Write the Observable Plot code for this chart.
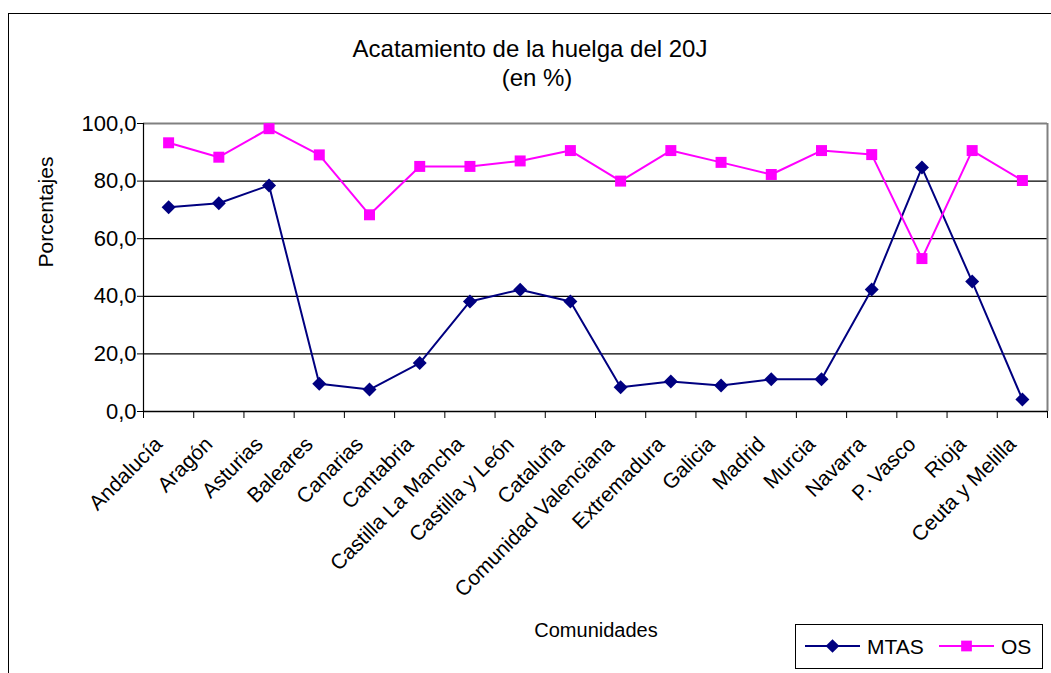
<!DOCTYPE html>
<html>
<head>
<meta charset="utf-8">
<script src="https://cdn.jsdelivr.net/npm/d3@7"></script>
<script src="https://cdn.jsdelivr.net/npm/@observablehq/plot@0.6"></script>
<style>
  html, body { margin: 0; padding: 0; background: #fff; overflow: hidden; }
  #wrap { position: relative; width: 1051px; height: 673px; overflow: hidden; font-family: "Liberation Sans", Arial, sans-serif; color: #000; }
  #frame { position: absolute; left: 8px; top: 13px; width: 1200px; height: 800px; border-left: 1px solid #000; border-top: 1px solid #000; }
  .t { position: absolute; white-space: nowrap; text-align: center; line-height: 24px; }
  #chart { position: absolute; left: 0; top: 0; }
  #legend { position: absolute; left: 795px; top: 624px; }
</style>
</head>
<body>
<div id="wrap">
  <div id="frame"></div>
  <div id="chart"></div>
  <div class="t" style="left:280px;width:500px;top:37px;font-size:24px;">Acatamiento de la huelga del 20J</div>
  <div class="t" style="left:437px;width:200px;top:66px;font-size:24px;">(en %)</div>
  <div class="t" style="left:496px;width:200px;top:618px;font-size:20px;">Comunidades</div>
  <div id="legend"></div>
</div>
<script>
const categories = ["Andalucía","Aragón","Asturias","Baleares","Canarias","Cantabria","Castilla La Mancha","Castilla y León","Cataluña","Comunidad Valenciana","Extremadura","Galicia","Madrid","Murcia","Navarra","P. Vasco","Rioja","Ceuta y Melilla"];
const mtas = [70.9,72.3,78.5,9.6,7.6,16.8,38.2,42.3,38.2,8.4,10.4,9.0,11.2,11.2,42.4,84.7,45.1,4.2];
const os = [93.3,88.3,98.2,89.1,68.3,85.1,85.1,87.0,90.6,80.0,90.6,86.5,82.3,90.6,89.2,53.1,90.6,80.2];
const yTicks = [0,20,40,60,80,100];
const seriesNames = ["MTAS","OS"];
const seriesColors = ["#000080","#FF00FF"];

const mtasRows = categories.map((c, i) => ({cat: c, i: i + 0.5, value: mtas[i], series: "MTAS"}));
const osRows = categories.map((c, i) => ({cat: c, i: i + 0.5, value: os[i], series: "OS"}));
const labelRows = categories.map((c, i) => ({cat: c, i: i + 0.5}));
const n = categories.length;

const fmt = d => d.toFixed(1).replace(".", ",");

const plot = Plot.plot({
  width: 1051,
  height: 673,
  marginLeft: 143,
  marginRight: 4,
  marginTop: 123,
  marginBottom: 262,
  style: {fontFamily: '"Liberation Sans", Arial, sans-serif', background: "transparent", color: "#000"},
  x: {type: "linear", domain: [0, n], axis: null},
  y: {domain: [0, 100], axis: null},
  marks: [
    Plot.ruleY(yTicks.filter(d => d > 0 && d < 100), {stroke: "#000", strokeWidth: 1.2, strokeOpacity: 1}),
    Plot.ruleY([100], {stroke: "#808080", strokeWidth: 2}),
    Plot.ruleX([n], {stroke: "#808080", strokeWidth: 2}),
    Plot.axisY({ticks: yTicks, tickFormat: fmt, tickSize: 6, tickPadding: 1, fontSize: 22, label: null, strokeOpacity: 1}),
    Plot.axisX({ticks: d3.range(n + 1), tickFormat: () => "", tickSize: 7, label: null, strokeOpacity: 1}),
    Plot.ruleX([0], {stroke: "#000", strokeWidth: 1.2}),
    Plot.ruleY([0], {stroke: "#000", strokeWidth: 1.5}),
    Plot.text(labelRows, {x: "i", y: 0, text: "cat", rotate: -45, textAnchor: "end", lineAnchor: "bottom", dx: -5, dy: 34, fontSize: 21}),
    Plot.text(["Porcentajes"], {text: d => d, frameAnchor: "left", rotate: -90, dx: -97, fontSize: 21, lineAnchor: "middle"}),
    Plot.line(mtasRows, {x: "i", y: "value", stroke: seriesColors[0], strokeWidth: 2}),
    Plot.line(osRows, {x: "i", y: "value", stroke: seriesColors[1], strokeWidth: 2}),
    Plot.dot(mtasRows, {x: "i", y: "value", fill: seriesColors[0], symbol: "diamond2", r: 6.3, stroke: "none"}),
    Plot.dot(osRows, {x: "i", y: "value", fill: seriesColors[1], symbol: "square", r: 6.2, stroke: "none"})
  ]
});
document.getElementById("chart").appendChild(plot);

// legend
const lg = d3.select("#legend").append("svg").attr("width", 248).attr("height", 45);
lg.append("rect").attr("x", 0.5).attr("y", 0.5).attr("width", 247).attr("height", 44).attr("fill", "#fff").attr("stroke", "#000");
const entryX = [10, 144];
seriesNames.forEach((s, k) => {
  const g = lg.append("g").attr("transform", `translate(${entryX[k]},22)`);
  g.append("line").attr("x1", 0).attr("x2", 55).attr("stroke", seriesColors[k]).attr("stroke-width", 2);
  const sym = k === 0 ? d3.symbolDiamond2 : d3.symbolSquare;
  g.append("path").attr("transform", "translate(27.5,0)").attr("d", d3.symbol(sym, k === 0 ? 120 : 115)()).attr("fill", seriesColors[k]);
  g.append("text").attr("x", 62).attr("y", 0).attr("dy", "0.36em").attr("font-size", 21).attr("font-family", '"Liberation Sans", Arial, sans-serif').text(s);
});
</script>
</body>
</html>
